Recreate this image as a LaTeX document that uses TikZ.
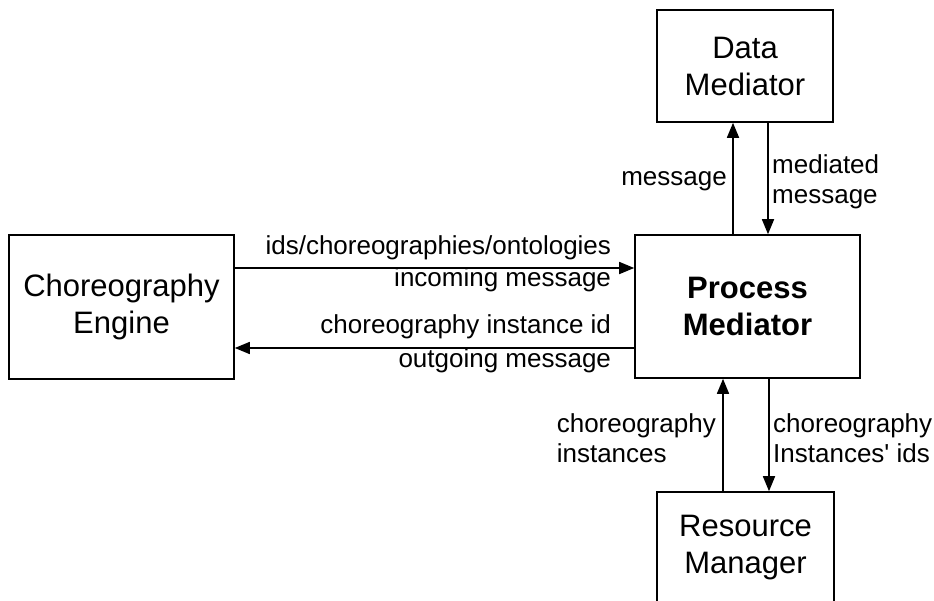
\documentclass[tikz,border=0pt]{standalone}
\usepackage{fontspec}
\setmainfont{Liberation Sans}
\usepackage{tikz}
\usetikzlibrary{arrows.meta, positioning, calc}

\begin{document}
\begin{tikzpicture}[
			x=1pt, y=-1pt,
			box/.style={draw, line width=1.6pt, inner sep=0pt, align=center, font=\fontsize{31}{37}\selectfont},
			lbl/.style={inner sep=0pt, font=\fontsize{26}{30}\selectfont},
			flow/.style={line width=1.6pt, -{Triangle[length=15pt,width=12pt]}}
			]
			\useasboundingbox (0,0) rectangle (934,600);
			\clip (0,0) rectangle (934,600);
			% Blocchi
			\node[box, minimum width=225pt, minimum height=144pt] (CE) at (121.5,307) {Choreography\\Engine};
			\node[box, minimum width=225pt, minimum height=143pt, font=\fontsize{31}{37}\selectfont\bfseries] (PM) at (747.5,306.5) {Process\\Mediator};
			\node[box, minimum width=176pt, minimum height=112pt] (DM) at (745,66) {Data\\Mediator};
			\node[box, minimum width=177pt, minimum height=112pt] (RM) at (745.5,548) {Resource\\Manager};
			% Choreography Engine <-> Process Mediator
			\draw[flow] ([yshift=39pt]CE.east) coordinate (a1) -- (a1 -| PM.west) coordinate (a2);
			\node[lbl, anchor=base east] (ids) at ([xshift=-23pt, yshift=14pt]a2) {ids/choreographies/ontologies};
			\node[lbl, anchor=base east] (inc) at ([xshift=-23pt, yshift=-18pt]a2) {incoming message};
			\draw[flow] ([yshift=-41.5pt]PM.west) coordinate (b1) -- (b1 -| CE.east);
			\node[lbl, anchor=base east] (cid) at ([xshift=-23pt, yshift=15pt]b1) {choreography instance id};
			\node[lbl, anchor=base east] (out) at ([xshift=-23pt, yshift=-19pt]b1) {outgoing message};
			% Process Mediator <-> Data Mediator
			\draw[flow] ([xshift=-14.5pt]PM.north) coordinate (c1) -- (c1 |- DM.south) coordinate (c2);
			\node[lbl, anchor=base east] (msg) at ([xshift=-6pt, yshift=-63pt]c2) {message};
			\draw[flow] ([xshift=23pt]DM.south) coordinate (d1) -- (d1 |- PM.north);
			\node[lbl, anchor=north west, align=left] (med) at ([xshift=4pt, yshift=-32pt]d1) {mediated\\message};
			% Process Mediator <-> Resource Manager
			\draw[flow] ([xshift=-22.5pt]RM.north) coordinate (e1) -- (e1 |- PM.south) coordinate (e2);
			\node[lbl, anchor=north east, align=left] (ins) at ([xshift=-7pt, yshift=-35pt]e2) {choreography\\instances};
			\draw[flow] ([xshift=21.5pt]PM.south) coordinate (f1) -- (f1 |- RM.north);
			\node[lbl, anchor=north west, align=left] (iid) at ([xshift=4pt, yshift=-35pt]f1) {choreography\\Instances\textquotesingle{} ids};
		\end{tikzpicture}
\end{document}
